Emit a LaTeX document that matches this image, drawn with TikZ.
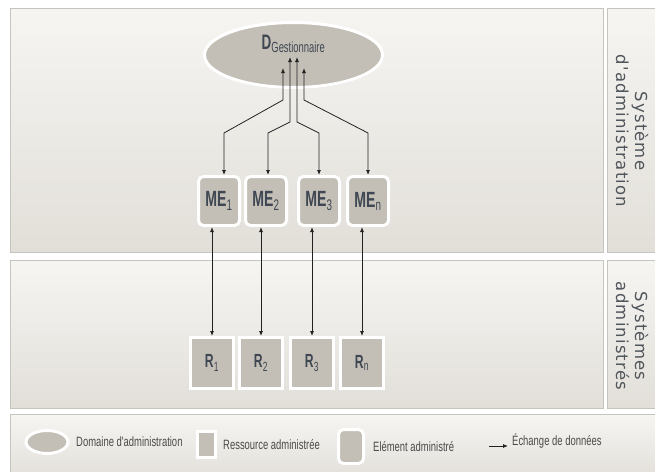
\documentclass[tikz,border=0pt]{standalone}
\usepackage{fontspec}
\setmainfont{Liberation Sans}
\newfontfamily\condfont[FakeStretch=0.64]{Liberation Sans}
\newfontfamily\legfont[FakeStretch=0.7]{Liberation Sans}
\newfontfamily\sidefont[LetterSpace=7]{DejaVu Sans}
\usetikzlibrary{positioning,arrows.meta,shadows,shapes.geometric}

\definecolor{panelhi}{HTML}{F6F5F2}
\definecolor{panello}{HTML}{E2DFD9}
\definecolor{paneledge}{HTML}{C6C4BE}
\definecolor{nodegray}{HTML}{C3BFB7}
\definecolor{textgray}{HTML}{3F4752}
\definecolor{sidegray}{HTML}{50555B}
\definecolor{leggray}{HTML}{4A4A4A}
\definecolor{linecol}{HTML}{222222}

\begin{document}
\begin{tikzpicture}[x=1pt, y=-1pt,
		panel/.style={top color=panelhi, bottom color=panello, draw=paneledge, line width=0.8pt},
		sidetext/.style={rotate=-90, align=center, text=sidegray, font=\sidefont\fontsize{16.5}{19}\selectfont},
		admdomain/.style={ellipse, fill=nodegray, draw=white, line width=3pt,
			drop shadow={opacity=0.2, shadow xshift=0.5pt, shadow yshift=-1.5pt}},
		element/.style={rectangle, rounded corners=5pt, fill=nodegray, draw=white, line width=3pt,
			minimum width=41pt, minimum height=49pt, text=textgray,
			font=\condfont\bfseries\fontsize{22}{22}\selectfont,
			drop shadow={opacity=0.2, shadow xshift=0.5pt, shadow yshift=-1.5pt}},
		resource/.style={rectangle, fill=nodegray, draw=white, line width=3pt,
			minimum width=43pt, minimum height=51pt, text=textgray,
			font=\condfont\bfseries\fontsize{19}{19}\selectfont,
			drop shadow={opacity=0.2, shadow xshift=0.5pt, shadow yshift=-1.5pt}},
		link/.style={{Latex[length=5pt,width=4pt]}-{Latex[length=5pt,width=4pt]}, line width=0.8pt, draw=linecol},
		legtext/.style={text=leggray, font=\legfont\fontsize{13.5}{13.5}\selectfont, inner sep=0pt}]
		\useasboundingbox (0, 0) rectangle (655, 471);
		\clip (0, 0) rectangle (655, 471);
		
		% panels
		\shade[panel] (10, 8) rectangle (603, 252);
		\shade[panel] (607, 8) rectangle (662, 252);
		\shade[panel] (10, 260) rectangle (603, 408);
		\shade[panel] (607, 260) rectangle (662, 408);
		\shade[panel] (10, 414) rectangle (662, 480);
		
		\node[sidetext] (sysadmin) at (632, 131) {Système\\d'administration};
		\node[sidetext] (sysres) at (632, 336) {Systèmes\\administrés};
		
		% manager
		\node[admdomain, minimum width=178pt, minimum height=65pt] (dg) at (293.5, 55) {};
		\node[text=textgray, font=\condfont\fontsize{21}{21}\selectfont] (dglabel) at ([shift={(0, -11)}]dg.center)
		{{\bfseries D}\textsubscript{Gestionnaire}};
		
		% managed elements
		\node[element] (me1) at (219, 201) {ME\textsubscript{\mdseries 1}};
		\node[element] (me2) at (266, 201) {ME\textsubscript{\mdseries 2}};
		\node[element] (me3) at (319, 201) {ME\textsubscript{\mdseries 3}};
		\node[element] (men) at (368, 201) {ME\textsubscript{\mdseries n}};
		
		% resources
		\node[resource] (r1) at (212, 363) {R\textsubscript{\mdseries 1}};
		\node[resource] (r2) at (261, 363) {R\textsubscript{\mdseries 2}};
		\node[resource] (r3) at (312, 363) {R\textsubscript{\mdseries 3}};
		\node[resource] (rn) at (362, 363) {R\textsubscript{\mdseries n}};
		
		% manager <-> elements
		\draw[link] ([shift={(-10.5, 13)}]dg.center) -- ++(0, 32) -- ([shift={(5, -42)}]me1.north) -- ([shift={(5, 0)}]me1.north);
		\draw[link] ([shift={(-3.5, 2)}]dg.center) -- ++(0, 65) -- ([shift={(2, -42)}]me2.north) -- ([shift={(2, 0)}]me2.north);
		\draw[link] ([shift={(3.5, 2)}]dg.center) -- ++(0, 65) -- ([shift={(0, -42)}]me3.north) -- (me3.north);
		\draw[link] ([shift={(10.5, 13)}]dg.center) -- ++(0, 32) -- ([shift={(0, -42)}]men.north) -- (men.north);
		
		% elements <-> resources
		\draw[link] (r1.north |- me1.south) -- (r1.north);
		\draw[link] (r2.north |- me2.south) -- (r2.north);
		\draw[link] (r3.north |- me3.south) -- (r3.north);
		\draw[link] (rn.north |- men.south) -- (rn.north);
		
		% legend
		\node[admdomain, minimum width=42pt, minimum height=23pt] (legdom) at (47, 442) {};
		\node[legtext, right=6.5pt of legdom] (legdomtxt) {Domaine d'administration};
		\node[resource, minimum width=18pt, minimum height=26pt] (legres) at (206.5, 444.5) {};
		\node[legtext, right=6pt of legres] (legrestxt) {Ressource administrée};
		\node[element, minimum width=25pt, minimum height=34pt] (legelem) at (351, 446.5) {};
		\node[legtext, right=8pt of legelem] (legelemtxt) {Elément administré};
		\coordinate (legarrA) at (489, 446);
		\coordinate (legarrB) at (508, 446);
		\draw[-{Latex[length=5pt,width=4pt]}, line width=0.8pt, draw=linecol] (legarrA) -- (legarrB);
		\node[legtext, anchor=west] (legarrtxt) at ([shift={(4, -5)}]legarrB) {Échange de données};
	\end{tikzpicture}
\end{document}
